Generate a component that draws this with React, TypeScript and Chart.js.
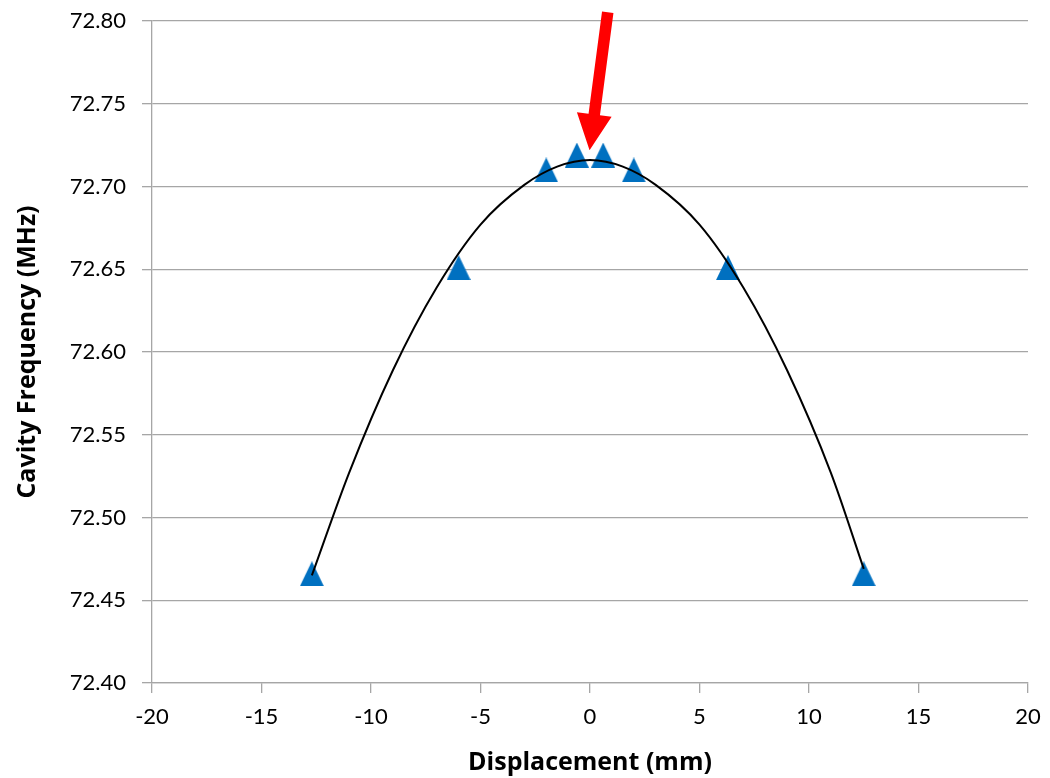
import React, { useEffect, useRef } from "react";
import { Chart, registerables } from "chart.js";

Chart.register(...registerables);

// Measured points (triangles)
const displacement = [-12.7, -6.0, -2.0, -0.6, 0.6, 2.0, 6.3, 12.5];
const frequency = [72.466, 72.651, 72.71, 72.719, 72.719, 72.71, 72.651, 72.466];

// Trendline (polynomial fit) values
const trendX = [-12.7, -11, -9, -7, -5, -3, -1.5, 0, 1.5, 3, 5, 7, 9, 11, 12.5];
const trendY = [72.465, 72.527, 72.589, 72.639, 72.677, 72.701, 72.712, 72.716, 72.712, 72.701, 72.677, 72.639, 72.589, 72.527, 72.469];

// Axis ranges / tick steps
const xRange = [-20, 20];
const xStep = 5;
const yRange = [72.4, 72.8];
const yStep = 0.05;

// Arrow annotation (data coordinates): tail and tip
const arrowTail = [0.81, 72.8053];
const arrowTip = [-0.02, 72.7219];

const xTitle = "Displacement (mm)";
const yTitle = "Cavity Frequency (MHz)";

const GRID = "#a6a6a6";

const arrowPlugin = {
  id: "redArrow",
  afterDatasetsDraw(chart: any) {
    const { ctx, scales } = chart;
    const x1 = scales.x.getPixelForValue(arrowTail[0]);
    const y1 = scales.y.getPixelForValue(arrowTail[1]);
    const x2 = scales.x.getPixelForValue(arrowTip[0]);
    const y2 = scales.y.getPixelForValue(arrowTip[1]);
    const dx = x2 - x1;
    const dy = y2 - y1;
    const len = Math.hypot(dx, dy);
    const ux = dx / len;
    const uy = dy / len;
    const nx = -uy;
    const ny = ux;
    const headLen = 36;
    const headW = 35;
    const shaftW = 11.5;
    const bx = x2 - ux * headLen;
    const by = y2 - uy * headLen;
    ctx.save();
    ctx.fillStyle = "#ff0000";
    ctx.beginPath();
    ctx.moveTo(x1 + (nx * shaftW) / 2, y1 + (ny * shaftW) / 2);
    ctx.lineTo(bx + (nx * shaftW) / 2, by + (ny * shaftW) / 2);
    ctx.lineTo(bx + (nx * headW) / 2, by + (ny * headW) / 2);
    ctx.lineTo(x2, y2);
    ctx.lineTo(bx - (nx * headW) / 2, by - (ny * headW) / 2);
    ctx.lineTo(bx - (nx * shaftW) / 2, by - (ny * shaftW) / 2);
    ctx.lineTo(x1 - (nx * shaftW) / 2, y1 - (ny * shaftW) / 2);
    ctx.closePath();
    ctx.fill();
    ctx.restore();
  },
};

export default function App() {
  const canvasRef = useRef<HTMLCanvasElement | null>(null);

  useEffect(() => {
    document.body.style.margin = "0";
    document.body.style.background = "#ffffff";
    const canvas = canvasRef.current;
    if (!canvas) return;

    const tri = document.createElement("canvas");
    tri.width = 24;
    tri.height = 25;
    const tc = tri.getContext("2d")!;
    tc.fillStyle = "#0070c0";
    tc.beginPath();
    tc.moveTo(12, 0);
    tc.lineTo(24, 25);
    tc.lineTo(0, 25);
    tc.closePath();
    tc.fill();

    const points = displacement.map((x, i) => ({ x, y: frequency[i] }));
    const trend = trendX.map((x, i) => ({ x, y: trendY[i] }));

    const chart = new Chart(canvas, {
      type: "scatter",
      data: {
        datasets: [
          {
            label: "Fit",
            data: trend,
            showLine: true,
            borderColor: "#000000",
            borderWidth: 2,
            pointRadius: 0,
            cubicInterpolationMode: "monotone",
            order: 0,
          } as any,
          {
            label: "Measured",
            data: points,
            pointStyle: tri as any,
            pointRadius: 12,
            showLine: false,
            order: 1,
          } as any,
        ],
      },
      options: {
        animation: false,
        responsive: false,
        maintainAspectRatio: false,
        layout: { padding: { top: 21, right: 22, left: 0, bottom: 0 } },
        plugins: {
          legend: { display: false },
          tooltip: { enabled: false },
        },
        scales: {
          x: {
            type: "linear",
            min: xRange[0],
            max: xRange[1],
            afterFit: (s: any) => {
              s.height = 95;
              s.paddingLeft = 0;
              s.paddingRight = 0;
            },
            ticks: {
              stepSize: xStep,
              color: "#000000",
              padding: 11,
              maxRotation: 0,
              font: { family: "Lato", size: 22 },
            },
            grid: {
              drawOnChartArea: false,
              drawTicks: true,
              tickLength: 10,
              color: GRID,
              lineWidth: 1.3,
            },
            border: { color: GRID, width: 1.3 },
            title: {
              display: true,
              text: xTitle,
              color: "#000000",
              font: { family: "Open Sans", size: 25, weight: "bold" },
              padding: { top: 0, bottom: 0 },
            },
          },
          y: {
            type: "linear",
            min: yRange[0],
            max: yRange[1],
            afterFit: (s: any) => {
              s.width = 152;
              s.paddingTop = 0;
              s.paddingBottom = 0;
            },
            ticks: {
              stepSize: yStep,
              color: "#000000",
              padding: 16,
              font: { family: "Lato", size: 22 },
              callback: (v: any) => Number(v).toFixed(2),
            },
            grid: {
              drawOnChartArea: true,
              drawTicks: true,
              tickLength: 10,
              color: GRID,
              lineWidth: 1.3,
            },
            border: { color: GRID, width: 1.3 },
            title: {
              display: true,
              text: yTitle,
              color: "#000000",
              font: { family: "Open Sans", size: 25, weight: "bold" },
              padding: { top: 13, bottom: 0 },
            },
          },
        },
      },
      plugins: [arrowPlugin],
    });

    return () => {
      chart.destroy();
    };
  }, []);

  return (
    <div style={{ width: 1050, height: 778, position: "relative", background: "#fff" }}>
      <canvas ref={canvasRef} width={1050} height={778} style={{ display: "block" }} />
    </div>
  );
}
